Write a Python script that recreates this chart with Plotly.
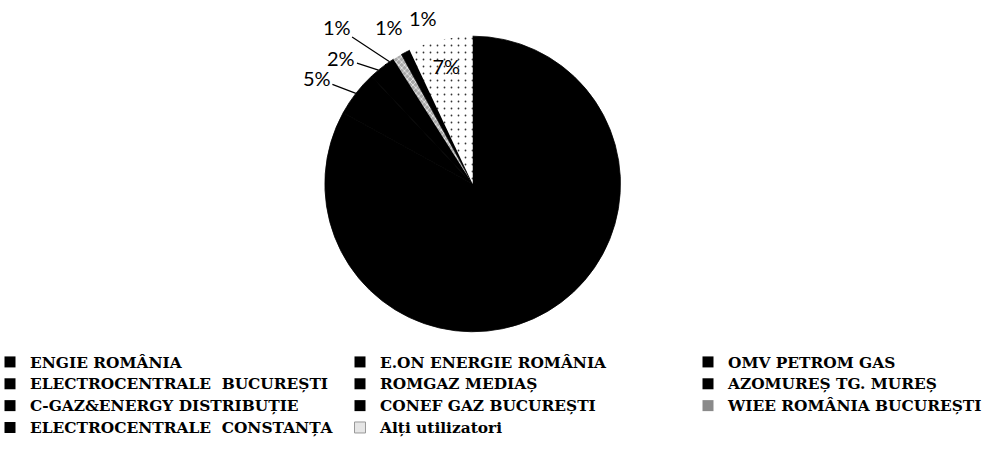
import math
import plotly.graph_objects as go

categories = ["ENGIE ROMÂNIA", "E.ON ENERGIE ROMÂNIA", "OMV PETROM GAS",
              "ELECTROCENTRALE\u00a0\u00a0BUCUREȘTI", "ROMGAZ MEDIAȘ", "AZOMUREȘ TG. MUREȘ",
              "C-GAZ&ENERGY DISTRIBUȚIE", "CONEF GAZ BUCUREȘTI", "WIEE ROMÂNIA BUCUREȘTI",
              "ELECTROCENTRALE\u00a0\u00a0CONSTANȚA", "Alți utilizatori"]
shares = [83, 5, 2, 0, 0, 0, 0, 1, 1, 1, 7]

# styling (not data)
slice_colors = ["#000000"] * 8 + ["#a8a8a8", "#000000", "#ffffff"]
slice_line_w = [0.8] * 8 + [0, 0.8, 0]
legend_colors = ["#000000"] * 8 + ["#8a8a8a", "#000000", "#e6e6e6"]
legend_cols = ["legend", "legend2", "legend3"] * 4
# label offsets (pixels) for outside labels: (dx, dy, leader)
label_style = {1: (-39, -15, True), 2: (-37, -12, True), 7: (-53, -35, True),
               8: (-8, -30, False), 9: (17, -34, False)}

W, H = 993, 452
dom_x = [0.176, 0.776]
dom_y = [0.266, 0.92]
cx = sum(dom_x) / 2
cy = sum(dom_y) / 2
radius_px = (dom_y[1] - dom_y[0]) * H / 2

labels_txt = [f"{v}%" if v > 0 else "" for v in shares]
positions = ["inside" if (v >= 7) else "none" for v in shares]
pct_font = dict(family="Lato", size=20, color="#000000")

fig = go.Figure()
fig.add_trace(go.Pie(
    labels=categories, values=shares, sort=False, direction="clockwise", rotation=0,
    text=labels_txt, texttemplate="%{text}", textposition=positions,
    insidetextorientation="horizontal",
    textfont=pct_font,
    marker=dict(colors=slice_colors, line=dict(width=slice_line_w, color="#000000"),
                pattern=dict(shape=[""] * 8 + ["x", "", "."],
                             fgcolor=["#000000"] * 8 + ["#ffffff", "#000000", "#333333"],
                             bgcolor=slice_colors,
                             size=[5] * 8 + [4, 5, 7],
                             solidity=[0.2] * 8 + [0.3, 0.2, 0.05])),
    domain=dict(x=dom_x, y=dom_y),
    showlegend=False, hoverinfo="label+percent",
))

# outside percentage labels, anchored at the middle of each slice's arc
total = sum(shares)
cum = 0.0
for i, v in enumerate(shares):
    start = cum
    cum += v
    if i not in label_style or v == 0:
        continue
    mid = (start + v / 2) / total * 2 * math.pi
    px = cx + radius_px * math.sin(mid) / W
    py = cy + radius_px * math.cos(mid) / H
    dx, dy, leader = label_style[i]
    if leader:
        fig.add_annotation(x=px, y=py, xref="paper", yref="paper", text=labels_txt[i],
                           showarrow=True, arrowhead=0, arrowwidth=1.2, arrowcolor="#000000",
                           ax=dx, ay=dy, standoff=0, startstandoff=0, font=pct_font)
    else:
        fig.add_annotation(x=px, y=py, xref="paper", yref="paper", text=labels_txt[i],
                           showarrow=False, xshift=dx, yshift=-dy,
                           xanchor="center", yanchor="middle", font=pct_font)

for i, name in enumerate(categories):
    fig.add_trace(go.Scatter(
        x=[None], y=[None], mode="markers",
        name=f'<span style="font-size:15.4px">{name}</span>',
        marker=dict(symbol="square", size=11, color=legend_colors[i],
                    line=dict(width=1 if i == 10 else 0, color="#999999")),
        legend=legend_cols[i], showlegend=True, hoverinfo="skip",
    ))

lfont = dict(family="DejaVu Serif", size=14.5, color="#000000", weight="bold")
ltop = 1 - 346 / H
lcommon = dict(xanchor="left", yanchor="top", font=lfont, bgcolor="rgba(0,0,0,0)",
               tracegroupgap=0)
fig.update_layout(
    width=W, height=H,
    margin=dict(l=0, r=0, t=0, b=0, autoexpand=False),
    paper_bgcolor="white", plot_bgcolor="white",
    xaxis=dict(visible=False), yaxis=dict(visible=False),
    legend=dict(x=-10 / W, y=ltop, **lcommon),
    legend2=dict(x=340 / W, y=ltop, **lcommon),
    legend3=dict(x=688 / W, y=ltop, **lcommon),
)
fig.write_html("out.html", config={"displayModeBar": False},
               post_script="document.body.style.margin='0';")
